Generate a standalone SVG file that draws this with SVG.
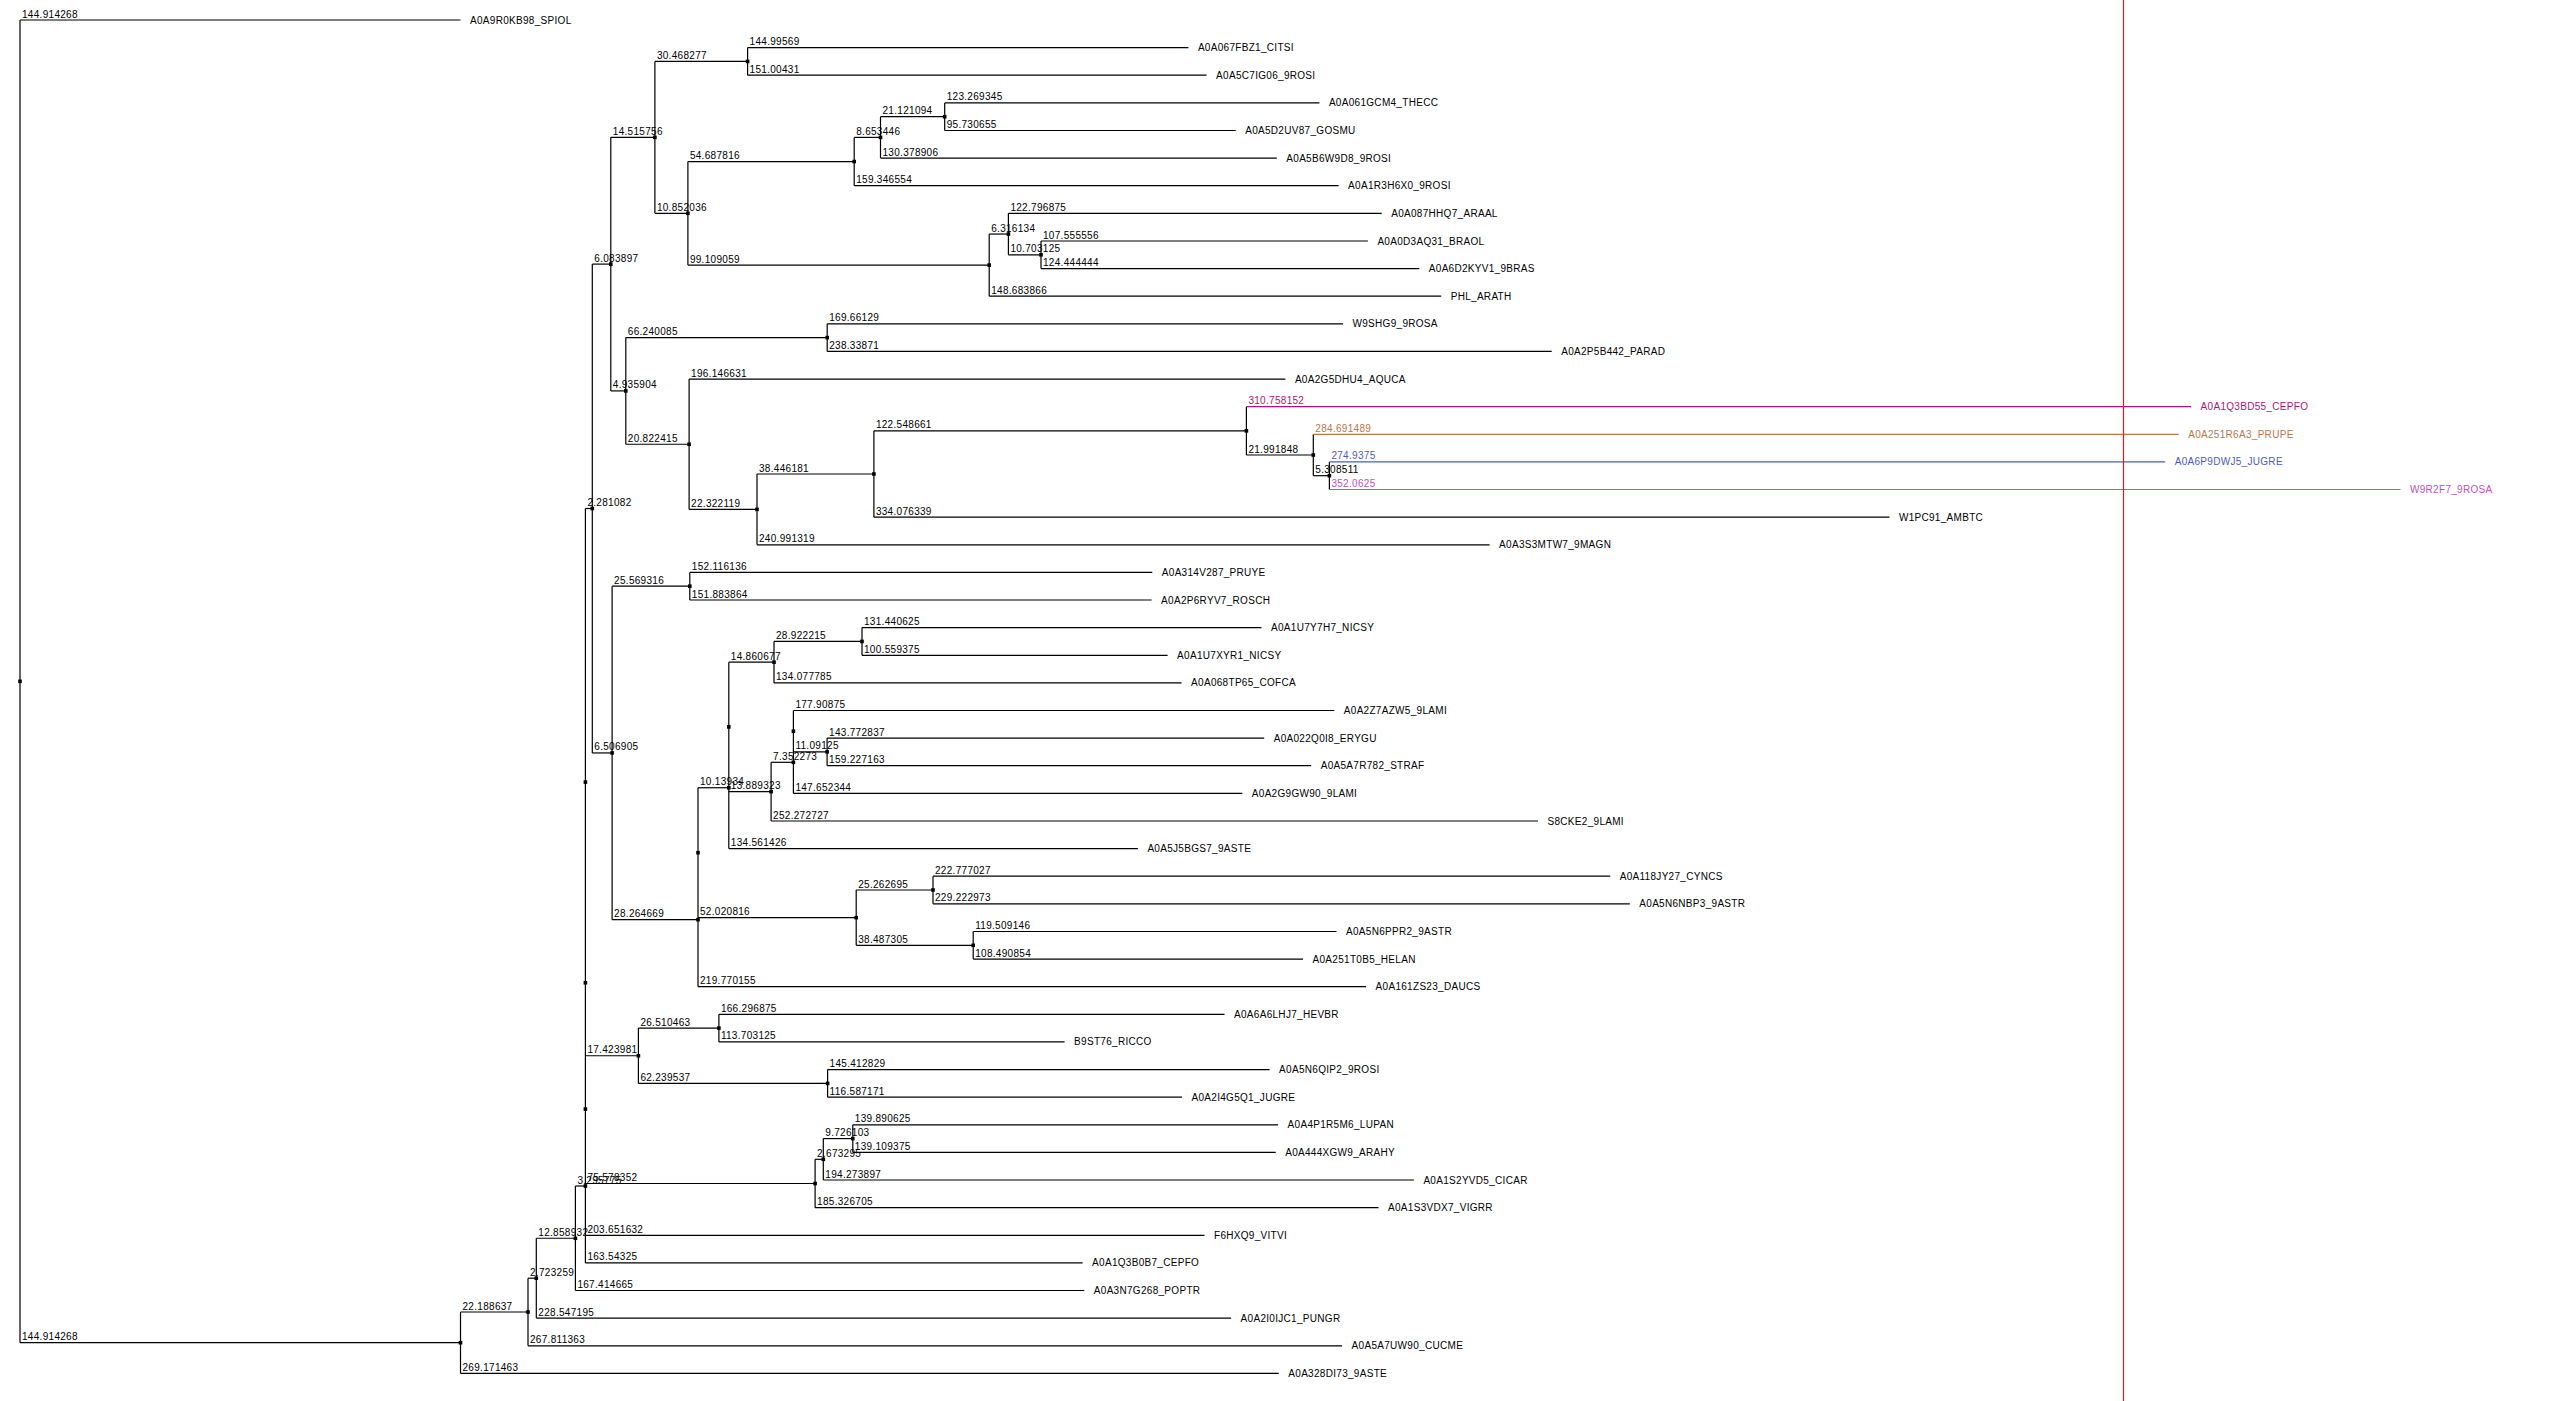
<svg xmlns="http://www.w3.org/2000/svg" xmlns:xlink="http://www.w3.org/1999/xlink" width="2552" height="1401" viewBox="0 0 2552 1401">
<style>
.c path{stroke:#000;stroke-width:1.2;fill:none}
text{font-family:"Liberation Sans",Arial,Helvetica,sans-serif;font-size:10px;letter-spacing:0.3px;fill:#000}
.mg{fill:#b3107a}.br{fill:#b87847}.bl{fill:#4a5cbf}.pu{fill:#c04fc0}
.c path.mg{stroke:#b3107a;fill:none}.c path.br{stroke:#b87847;fill:none}.c path.bl{stroke:#4a5cbf;fill:none}.c path.pu{stroke:#c04fc0;fill:none}
</style>
<defs><rect id="d" x="-1.8" y="-1.8" width="3.6" height="3.6" fill="#000"/></defs>
<rect width="2552" height="1401" fill="#fff"/>
<g id="connectors" class="c">
<path d="M20 20V1342.7M460.5 1312V1373.4M528 1278.2V1345.8M536.3 1238.25V1318.1M575.4 1186V1290.5M585.4 508.5V1262.9M592.3 264.1V752.95M610.8 137.35V390.9M654.9 61.4V213.3M747.6 47.6V75.2M687.9 161.55V265.1M854.2 137.4V185.7M880.5 116.7V158.1M944.7 102.9V130.5M989.2 234.05V296.2M1008.4 213.3V254.8M1041 241V268.6M625.8 337.6V444.25M827.2 323.8V351.4M689.1 379.1V509.4M757 474V544.8M873.9 430.85V517.2M1246.4 406.7V455M1313.3 434.3V475.7M1329.4 461.9V489.5M612.1 586.2V919.7M689.8 572.4V600M698 787.75V986.7M728.8 662.2V848.6M774 641.45V682.9M862 627.6V655.3M771.1 762.3V821M793.4 710.5V793.4M827.1 738.1V765.7M856.2 890V945.3M933 876.2V903.8M973.2 931.5V959.1M638.4 1028.1V1083.4M718.9 1014.3V1041.9M827.6 1069.6V1097.2M815.1 1159.3V1207.7M823.3 1138.6V1180M852.8 1124.8V1152.4"/>
<path d="M20 20H460.5"/><text x="22" y="17.5">144.914268</text>
<path d="M747.6 47.6H1188.4"/><text x="749.6" y="45.1">144.99569</text>
<path d="M747.6 75.2H1206.6"/><text x="749.6" y="72.7">151.00431</text>
<path d="M944.7 102.9H1319.4"/><text x="946.7" y="100.4">123.269345</text>
<path d="M944.7 130.5H1235.7"/><text x="946.7" y="128">95.730655</text>
<path d="M880.5 158.1H1276.8"/><text x="882.5" y="155.6">130.378906</text>
<path d="M854.2 185.7H1338.6"/><text x="856.2" y="183.2">159.346554</text>
<path d="M1008.4 213.3H1381.7"/><text x="1010.4" y="210.8">122.796875</text>
<path d="M1041 241H1367.9"/><text x="1043" y="238.5">107.555556</text>
<path d="M1041 268.6H1419.3"/><text x="1043" y="266.1">124.444444</text>
<path d="M989.2 296.2H1441.2"/><text x="991.2" y="293.7">148.683866</text>
<path d="M827.2 323.8H1343"/><text x="829.2" y="321.3">169.66129</text>
<path d="M827.2 351.4H1551.7"/><text x="829.2" y="348.9">238.33871</text>
<path d="M689.1 379.1H1285.4"/><text x="691.1" y="376.6">196.146631</text>
<path class="mg" d="M1246.4 406.7H2191.1"/><text class="mg" x="1248.4" y="404.2">310.758152</text>
<path class="br" d="M1313.3 434.3H2178.7"/><text class="br" x="1315.3" y="431.8">284.691489</text>
<path class="bl" d="M1329.4 461.9H2165.2"/><text class="bl" x="1331.4" y="459.4">274.9375</text>
<path class="pu" d="M1329.4 489.5H2400.5"/><text class="pu" x="1331.4" y="487">352.0625</text>
<path d="M873.9 517.2H1889.4"/><text x="875.9" y="514.7">334.076339</text>
<path d="M757 544.8H1489.6"/><text x="759" y="542.3">240.991319</text>
<path d="M689.8 572.4H1152.3"/><text x="691.8" y="569.9">152.116136</text>
<path d="M689.8 600H1151.6"/><text x="691.8" y="597.5">151.883864</text>
<path d="M862 627.6H1261.5"/><text x="864" y="625.1">131.440625</text>
<path d="M862 655.3H1167.6"/><text x="864" y="652.8">100.559375</text>
<path d="M774 682.9H1181.6"/><text x="776" y="680.4">134.077785</text>
<path d="M793.4 710.5H1334.3"/><text x="795.4" y="708">177.90875</text>
<path d="M827.1 738.1H1264.2"/><text x="829.1" y="735.6">143.772837</text>
<path d="M827.1 765.7H1311.2"/><text x="829.1" y="763.2">159.227163</text>
<path d="M793.4 793.4H1242.3"/><text x="795.4" y="790.9">147.652344</text>
<path d="M771.1 821H1538"/><text x="773.1" y="818.5">252.272727</text>
<path d="M728.8 848.6H1137.9"/><text x="730.8" y="846.1">134.561426</text>
<path d="M933 876.2H1610.2"/><text x="935" y="873.7">222.777027</text>
<path d="M933 903.8H1629.8"/><text x="935" y="901.3">229.222973</text>
<path d="M973.2 931.5H1336.5"/><text x="975.2" y="929">119.509146</text>
<path d="M973.2 959.1H1303"/><text x="975.2" y="956.6">108.490854</text>
<path d="M698 986.7H1366.1"/><text x="700" y="984.2">219.770155</text>
<path d="M718.9 1014.3H1224.5"/><text x="720.9" y="1011.8">166.296875</text>
<path d="M718.9 1041.9H1064.6"/><text x="720.9" y="1039.4">113.703125</text>
<path d="M827.6 1069.6H1269.6"/><text x="829.6" y="1067.1">145.412829</text>
<path d="M827.6 1097.2H1182"/><text x="829.6" y="1094.7">116.587171</text>
<path d="M852.8 1124.8H1278.1"/><text x="854.8" y="1122.3">139.890625</text>
<path d="M852.8 1152.4H1275.7"/><text x="854.8" y="1149.9">139.109375</text>
<path d="M823.3 1180H1413.9"/><text x="825.3" y="1177.5">194.273897</text>
<path d="M815.1 1207.7H1378.5"/><text x="817.1" y="1205.2">185.326705</text>
<path d="M585.4 1235.3H1204.5"/><text x="587.4" y="1232.8">203.651632</text>
<path d="M585.4 1262.9H1082.6"/><text x="587.4" y="1260.4">163.54325</text>
<path d="M575.4 1290.5H1084.3"/><text x="577.4" y="1288">167.414665</text>
<path d="M536.3 1318.1H1231.1"/><text x="538.3" y="1315.6">228.547195</text>
<path d="M528 1345.8H1342.1"/><text x="530" y="1343.3">267.811363</text>
<path d="M460.5 1373.4H1278.8"/><text x="462.5" y="1370.9">269.171463</text>
<path d="M20 1342.7H460.5"/><text x="22" y="1340.2">144.914268</text>
<path d="M460.5 1312H528"/><text x="462.5" y="1309.5">22.188637</text>
<path d="M528 1278.2H536.3"/><text x="530" y="1275.7">2.723259</text>
<path d="M536.3 1238.25H575.4"/><text x="538.3" y="1235.75">12.858932</text>
<path d="M575.4 1186H585.4"/><text x="577.4" y="1183.5">3.295775</text>
<path d="M585.4 508.5H592.3"/><text x="587.4" y="506">2.281082</text>
<path d="M592.3 264.1H610.8"/><text x="594.3" y="261.6">6.083897</text>
<path d="M610.8 137.35H654.9"/><text x="612.8" y="134.85">14.515756</text>
<path d="M654.9 61.4H747.6"/><text x="656.9" y="58.9">30.468277</text>
<path d="M654.9 213.3H687.9"/><text x="656.9" y="210.8">10.852036</text>
<path d="M687.9 161.55H854.2"/><text x="689.9" y="159.05">54.687816</text>
<path d="M854.2 137.4H880.5"/><text x="856.2" y="134.9">8.653446</text>
<path d="M880.5 116.7H944.7"/><text x="882.5" y="114.2">21.121094</text>
<path d="M687.9 265.1H989.2"/><text x="689.9" y="262.6">99.109059</text>
<path d="M989.2 234.05H1008.4"/><text x="991.2" y="231.55">6.316134</text>
<path d="M1008.4 254.8H1041"/><text x="1010.4" y="252.3">10.703125</text>
<path d="M610.8 390.9H625.8"/><text x="612.8" y="388.4">4.935904</text>
<path d="M625.8 337.6H827.2"/><text x="627.8" y="335.1">66.240085</text>
<path d="M625.8 444.25H689.1"/><text x="627.8" y="441.75">20.822415</text>
<path d="M689.1 509.4H757"/><text x="691.1" y="506.9">22.322119</text>
<path d="M757 474H873.9"/><text x="759" y="471.5">38.446181</text>
<path d="M873.9 430.85H1246.4"/><text x="875.9" y="428.35">122.548661</text>
<path d="M1246.4 455H1313.3"/><text x="1248.4" y="452.5">21.991848</text>
<path d="M1313.3 475.7H1329.4"/><text x="1315.3" y="473.2">5.308511</text>
<path d="M592.3 752.95H612.1"/><text x="594.3" y="750.45">6.506905</text>
<path d="M612.1 586.2H689.8"/><text x="614.1" y="583.7">25.569316</text>
<path d="M612.1 919.7H698"/><text x="614.1" y="917.2">28.264669</text>
<path d="M698 787.75H728.8"/><text x="700" y="785.25">10.13934</text>
<path d="M728.8 662.2H774"/><text x="730.8" y="659.7">14.860677</text>
<path d="M774 641.45H862"/><text x="776" y="638.95">28.922215</text>
<path d="M728.8 791.65H771.1"/><text x="730.8" y="789.15">13.889323</text>
<path d="M771.1 762.3H793.4"/><text x="773.1" y="759.8">7.352273</text>
<path d="M793.4 751.9H827.1"/><text x="795.4" y="749.4">11.09125</text>
<path d="M698 917.65H856.2"/><text x="700" y="915.15">52.020816</text>
<path d="M856.2 890H933"/><text x="858.2" y="887.5">25.262695</text>
<path d="M856.2 945.3H973.2"/><text x="858.2" y="942.8">38.487305</text>
<path d="M585.4 1055.75H638.4"/><text x="587.4" y="1053.25">17.423981</text>
<path d="M638.4 1028.1H718.9"/><text x="640.4" y="1025.6">26.510463</text>
<path d="M638.4 1083.4H827.6"/><text x="640.4" y="1080.9">62.239537</text>
<path d="M585.4 1183.5H815.1"/><text x="587.4" y="1181">75.578352</text>
<path d="M815.1 1159.3H823.3"/><text x="817.1" y="1156.8">2.673295</text>
<path d="M823.3 1138.6H852.8"/><text x="825.3" y="1136.1">9.726103</text>
</g>
<g id="internal-nodes">
<use id="n-R" xlink:href="#d" x="20" y="681.35"/>
<use id="n-C1" xlink:href="#d" x="460.5" y="1342.7"/>
<use id="n-C2" xlink:href="#d" x="528" y="1312"/>
<use id="n-C3" xlink:href="#d" x="536.3" y="1278.2"/>
<use id="n-C4" xlink:href="#d" x="575.4" y="1238.25"/>
<use id="n-N3" xlink:href="#d" x="585.4" y="1186"/>
<use id="n-nc" xlink:href="#d" x="585.4" y="1109.05"/>
<use id="n-nb" xlink:href="#d" x="585.4" y="982.8"/>
<use id="n-na" xlink:href="#d" x="585.4" y="782.1"/>
<use id="n-B" xlink:href="#d" x="592.3" y="508.5"/>
<use id="n-D" xlink:href="#d" x="610.8" y="264.1"/>
<use id="n-F" xlink:href="#d" x="654.9" y="137.35"/>
<use id="n-H" xlink:href="#d" x="747.6" y="61.4"/>
<use id="n-I" xlink:href="#d" x="687.9" y="213.3"/>
<use id="n-J" xlink:href="#d" x="854.2" y="161.55"/>
<use id="n-L" xlink:href="#d" x="880.5" y="137.4"/>
<use id="n-M" xlink:href="#d" x="944.7" y="116.7"/>
<use id="n-K" xlink:href="#d" x="989.2" y="265.1"/>
<use id="n-N" xlink:href="#d" x="1008.4" y="234.05"/>
<use id="n-O" xlink:href="#d" x="1041" y="254.8"/>
<use id="n-G" xlink:href="#d" x="625.8" y="390.9"/>
<use id="n-P" xlink:href="#d" x="827.2" y="337.6"/>
<use id="n-Q" xlink:href="#d" x="689.1" y="444.25"/>
<use id="n-S" xlink:href="#d" x="757" y="509.4"/>
<use id="n-T" xlink:href="#d" x="873.9" y="474"/>
<use id="n-U" xlink:href="#d" x="1246.4" y="430.85"/>
<use id="n-V" xlink:href="#d" x="1313.3" y="455"/>
<use id="n-W" xlink:href="#d" x="1329.4" y="475.7"/>
<use id="n-E" xlink:href="#d" x="612.1" y="752.95"/>
<use id="n-X" xlink:href="#d" x="689.8" y="586.2"/>
<use id="n-Y" xlink:href="#d" x="698" y="919.7"/>
<use id="n-Y2" xlink:href="#d" x="698" y="852.7"/>
<use id="n-Z" xlink:href="#d" x="728.8" y="787.75"/>
<use id="n-Z2" xlink:href="#d" x="728.8" y="726.9"/>
<use id="n-AA" xlink:href="#d" x="774" y="662.2"/>
<use id="n-AC" xlink:href="#d" x="862" y="641.45"/>
<use id="n-AB" xlink:href="#d" x="771.1" y="791.65"/>
<use id="n-AD" xlink:href="#d" x="793.4" y="762.3"/>
<use id="n-AD2" xlink:href="#d" x="793.4" y="731.2"/>
<use id="n-AE" xlink:href="#d" x="827.1" y="751.9"/>
<use id="n-AF" xlink:href="#d" x="856.2" y="917.65"/>
<use id="n-AG" xlink:href="#d" x="933" y="890"/>
<use id="n-AH" xlink:href="#d" x="973.2" y="945.3"/>
<use id="n-AI" xlink:href="#d" x="638.4" y="1055.75"/>
<use id="n-AJ" xlink:href="#d" x="718.9" y="1028.1"/>
<use id="n-AK" xlink:href="#d" x="827.6" y="1083.4"/>
<use id="n-AL" xlink:href="#d" x="815.1" y="1183.5"/>
<use id="n-AM" xlink:href="#d" x="823.3" y="1159.3"/>
<use id="n-AN" xlink:href="#d" x="852.8" y="1138.6"/>
</g>
<g id="leaves">
<g id="leaf-0"><text x="470" y="23.5">A0A9R0KB98_SPIOL</text></g>
<g id="leaf-1"><text x="1197.9" y="51.1">A0A067FBZ1_CITSI</text></g>
<g id="leaf-2"><text x="1216.1" y="78.7">A0A5C7IG06_9ROSI</text></g>
<g id="leaf-3"><text x="1328.9" y="106.4">A0A061GCM4_THECC</text></g>
<g id="leaf-4"><text x="1245.2" y="134">A0A5D2UV87_GOSMU</text></g>
<g id="leaf-5"><text x="1286.3" y="161.6">A0A5B6W9D8_9ROSI</text></g>
<g id="leaf-6"><text x="1348.1" y="189.2">A0A1R3H6X0_9ROSI</text></g>
<g id="leaf-7"><text x="1391.2" y="216.8">A0A087HHQ7_ARAAL</text></g>
<g id="leaf-8"><text x="1377.4" y="244.5">A0A0D3AQ31_BRAOL</text></g>
<g id="leaf-9"><text x="1428.8" y="272.1">A0A6D2KYV1_9BRAS</text></g>
<g id="leaf-10"><text x="1450.7" y="299.7">PHL_ARATH</text></g>
<g id="leaf-11"><text x="1352.5" y="327.3">W9SHG9_9ROSA</text></g>
<g id="leaf-12"><text x="1561.2" y="354.9">A0A2P5B442_PARAD</text></g>
<g id="leaf-13"><text x="1294.9" y="382.6">A0A2G5DHU4_AQUCA</text></g>
<g id="leaf-14"><text class="mg" x="2200.6" y="410.2">A0A1Q3BD55_CEPFO</text></g>
<g id="leaf-15"><text class="br" x="2188.2" y="437.8">A0A251R6A3_PRUPE</text></g>
<g id="leaf-16"><text class="bl" x="2174.7" y="465.4">A0A6P9DWJ5_JUGRE</text></g>
<g id="leaf-17"><text class="pu" x="2410" y="493">W9R2F7_9ROSA</text></g>
<g id="leaf-18"><text x="1898.9" y="520.7">W1PC91_AMBTC</text></g>
<g id="leaf-19"><text x="1499.1" y="548.3">A0A3S3MTW7_9MAGN</text></g>
<g id="leaf-20"><text x="1161.8" y="575.9">A0A314V287_PRUYE</text></g>
<g id="leaf-21"><text x="1161.1" y="603.5">A0A2P6RYV7_ROSCH</text></g>
<g id="leaf-22"><text x="1271" y="631.1">A0A1U7Y7H7_NICSY</text></g>
<g id="leaf-23"><text x="1177.1" y="658.8">A0A1U7XYR1_NICSY</text></g>
<g id="leaf-24"><text x="1191.1" y="686.4">A0A068TP65_COFCA</text></g>
<g id="leaf-25"><text x="1343.8" y="714">A0A2Z7AZW5_9LAMI</text></g>
<g id="leaf-26"><text x="1273.7" y="741.6">A0A022Q0I8_ERYGU</text></g>
<g id="leaf-27"><text x="1320.7" y="769.2">A0A5A7R782_STRAF</text></g>
<g id="leaf-28"><text x="1251.8" y="796.9">A0A2G9GW90_9LAMI</text></g>
<g id="leaf-29"><text x="1547.5" y="824.5">S8CKE2_9LAMI</text></g>
<g id="leaf-30"><text x="1147.4" y="852.1">A0A5J5BGS7_9ASTE</text></g>
<g id="leaf-31"><text x="1619.7" y="879.7">A0A118JY27_CYNCS</text></g>
<g id="leaf-32"><text x="1639.3" y="907.3">A0A5N6NBP3_9ASTR</text></g>
<g id="leaf-33"><text x="1346" y="935">A0A5N6PPR2_9ASTR</text></g>
<g id="leaf-34"><text x="1312.5" y="962.6">A0A251T0B5_HELAN</text></g>
<g id="leaf-35"><text x="1375.6" y="990.2">A0A161ZS23_DAUCS</text></g>
<g id="leaf-36"><text x="1234" y="1017.8">A0A6A6LHJ7_HEVBR</text></g>
<g id="leaf-37"><text x="1074.1" y="1045.4">B9ST76_RICCO</text></g>
<g id="leaf-38"><text x="1279.1" y="1073.1">A0A5N6QIP2_9ROSI</text></g>
<g id="leaf-39"><text x="1191.5" y="1100.7">A0A2I4G5Q1_JUGRE</text></g>
<g id="leaf-40"><text x="1287.6" y="1128.3">A0A4P1R5M6_LUPAN</text></g>
<g id="leaf-41"><text x="1285.2" y="1155.9">A0A444XGW9_ARAHY</text></g>
<g id="leaf-42"><text x="1423.4" y="1183.5">A0A1S2YVD5_CICAR</text></g>
<g id="leaf-43"><text x="1388" y="1211.2">A0A1S3VDX7_VIGRR</text></g>
<g id="leaf-44"><text x="1214" y="1238.8">F6HXQ9_VITVI</text></g>
<g id="leaf-45"><text x="1092.1" y="1266.4">A0A1Q3B0B7_CEPFO</text></g>
<g id="leaf-46"><text x="1093.8" y="1294">A0A3N7G268_POPTR</text></g>
<g id="leaf-47"><text x="1240.6" y="1321.6">A0A2I0IJC1_PUNGR</text></g>
<g id="leaf-48"><text x="1351.6" y="1349.3">A0A5A7UW90_CUCME</text></g>
<g id="leaf-49"><text x="1288.3" y="1376.9">A0A328DI73_9ASTE</text></g>
</g>
<line id="cutoff" x1="2123.5" y1="0" x2="2123.5" y2="1401" stroke="#e8191c" stroke-width="1.2"/>
</svg>
